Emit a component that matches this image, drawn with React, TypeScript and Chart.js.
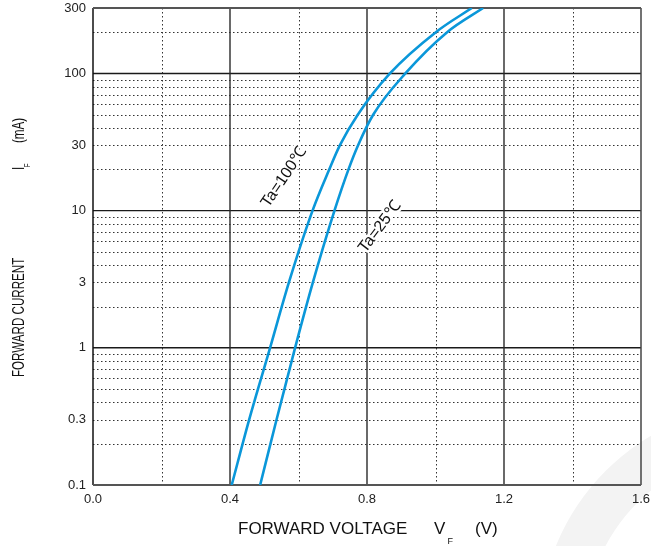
import { useEffect, useRef } from "react";
import { Chart, registerables } from "chart.js";

Chart.register(...registerables);

// ---- data ----
const currentPoints = [0.1, 0.3, 1, 3, 10, 20, 30, 50, 100, 200, 300];
const ta100Voltage = [0.405, 0.456, 0.517, 0.572, 0.641, 0.69, 0.721, 0.773, 0.867, 1.001, 1.106];
const ta25Voltage = [0.488, 0.536, 0.59, 0.642, 0.705, 0.746, 0.774, 0.818, 0.912, 1.034, 1.139];

const xTickValues = [0, 0.4, 0.8, 1.2, 1.6];
const yTickValues = [0.1, 0.3, 1, 3, 10, 30, 100, 300];
const xMajorGrid = [0.4, 0.8, 1.2];
const xMinorGrid = [0.2, 0.6, 1.0, 1.4];
const yMajorGrid = [1, 10, 100];
const yMinorGrid = [
  0.2, 0.3, 0.4, 0.5, 0.6, 0.7, 0.8, 0.9,
  2, 3, 4, 5, 6, 7, 8, 9,
  20, 30, 40, 50, 60, 70, 80, 90,
  200,
];
const curveLabelTexts = ["Ta=100℃", "Ta=25℃"];
const curveLabelVoltage = [0.558, 0.838];
const curveLabelCurrent = [17.5, 7.6];
const curveLabelAngle = [-56, -53];

const FONT = '"Liberation Sans", Arial, Helvetica, sans-serif';
const BLUE = "#0a97d9";

const watermarkPlugin = {
  id: "watermark",
  beforeDraw(chart: any) {
    const { ctx } = chart;
    ctx.save();
    ctx.fillStyle = "#f3f3f3";
    ctx.beginPath();
    ctx.arc(767, 632, 228, 0, Math.PI * 2);
    ctx.arc(767, 632, 183, 0, Math.PI * 2, true);
    ctx.fill("evenodd");
    ctx.restore();
  },
};

const gridPlugin = {
  id: "customGrid",
  beforeDatasetsDraw(chart: any) {
    const { ctx, chartArea, scales } = chart;
    const { left, right, top, bottom } = chartArea;
    const x = scales.x;
    const y = scales.y;
    ctx.save();
    ctx.strokeStyle = "#333";
    ctx.lineWidth = 1;
    ctx.setLineDash([1.5, 2.5]);
    yMinorGrid.forEach((v) => {
      const py = Math.round(y.getPixelForValue(v)) + 0.5;
      ctx.beginPath();
      ctx.moveTo(left, py);
      ctx.lineTo(right, py);
      ctx.stroke();
    });
    xMinorGrid.forEach((v) => {
      const px = Math.round(x.getPixelForValue(v)) + 0.5;
      ctx.beginPath();
      ctx.moveTo(px, top);
      ctx.lineTo(px, bottom);
      ctx.stroke();
    });
    ctx.setLineDash([]);
    ctx.strokeStyle = "#1a1a1a";
    ctx.lineWidth = 1.4;
    yMajorGrid.forEach((v) => {
      const py = y.getPixelForValue(v);
      ctx.beginPath();
      ctx.moveTo(left, py);
      ctx.lineTo(right, py);
      ctx.stroke();
    });
    ctx.strokeStyle = "#2a2a2a";
    xMajorGrid.forEach((v) => {
      const px = x.getPixelForValue(v);
      ctx.beginPath();
      ctx.moveTo(px, top);
      ctx.lineTo(px, bottom);
      ctx.stroke();
    });
    ctx.strokeStyle = "#111";
    ctx.lineWidth = 1.5;
    ctx.beginPath();
    ctx.moveTo(left, top);
    ctx.lineTo(left, bottom);
    ctx.stroke();
    ctx.strokeStyle = "#444";
    ctx.beginPath();
    ctx.moveTo(right, top);
    ctx.lineTo(right, bottom);
    ctx.stroke();
    ctx.strokeStyle = "#555";
    ctx.lineWidth = 2.2;
    ctx.beginPath();
    ctx.moveTo(left, top);
    ctx.lineTo(right, top);
    ctx.moveTo(left, bottom);
    ctx.lineTo(right, bottom);
    ctx.stroke();
    ctx.restore();
  },
};

const labelPlugin = {
  id: "curveLabels",
  afterDatasetsDraw(chart: any) {
    const { ctx, scales } = chart;
    ctx.save();
    ctx.font = `16px ${FONT}`;
    ctx.textAlign = "center";
    ctx.textBaseline = "middle";
    curveLabelTexts.forEach((t, i) => {
      const px = scales.x.getPixelForValue(curveLabelVoltage[i]);
      const py = scales.y.getPixelForValue(curveLabelCurrent[i]);
      ctx.save();
      ctx.translate(px, py);
      ctx.rotate((curveLabelAngle[i] * Math.PI) / 180);
      ctx.strokeStyle = "#fff";
      ctx.lineWidth = 5;
      ctx.lineJoin = "round";
      ctx.strokeText(t, 0, 0);
      ctx.fillStyle = "#111";
      ctx.fillText(t, 0, 0);
      ctx.restore();
    });
    ctx.restore();
  },
};

const titlePlugin = {
  id: "axisTitles",
  afterDraw(chart: any) {
    const { ctx } = chart;
    ctx.save();
    ctx.fillStyle = "#111";
    ctx.textAlign = "left";
    ctx.textBaseline = "alphabetic";
    // x axis title
    ctx.font = `17px ${FONT}`;
    ctx.fillText("FORWARD VOLTAGE", 238, 534);
    ctx.fillText("V", 434, 534);
    ctx.fillText("(V)", 475, 534);
    ctx.font = `9px ${FONT}`;
    ctx.fillText("F", 447.5, 544);
    // y axis title (rotated)
    const k = 0.683;
    ctx.save();
    ctx.translate(24, 377);
    ctx.rotate(-Math.PI / 2);
    ctx.scale(k, 1);
    ctx.font = `17px ${FONT}`;
    ctx.fillText("FORWARD CURRENT", 0, 0);
    ctx.fillText("I", 207 / k, 0);
    ctx.fillText("(mA)", 234 / k, 0);
    ctx.font = `9px ${FONT}`;
    ctx.fillText("F", 209.7 / k, 5.5);
    ctx.restore();
    ctx.restore();
  },
};

const zeroPadding = (scale: any) => {
  scale.paddingTop = 0;
  scale.paddingBottom = 0;
  scale.paddingLeft = 0;
  scale.paddingRight = 0;
};

export default function App() {
  const canvasRef = useRef<HTMLCanvasElement | null>(null);

  useEffect(() => {
    document.body.style.margin = "0";
    const canvas = canvasRef.current;
    if (!canvas) return;
    const chart = new Chart(canvas, {
      type: "line",
      data: {
        datasets: [
          {
            label: "Ta=100℃",
            data: ta100Voltage.map((v, i) => ({ x: v, y: currentPoints[i] })),
            borderColor: BLUE,
            borderWidth: 2.6,
            pointRadius: 0,
            cubicInterpolationMode: "monotone",
            fill: false,
          },
          {
            label: "Ta=25℃",
            data: ta25Voltage.map((v, i) => ({ x: v, y: currentPoints[i] })),
            borderColor: BLUE,
            borderWidth: 2.6,
            pointRadius: 0,
            cubicInterpolationMode: "monotone",
            fill: false,
          },
        ],
      },
      options: {
        animation: false,
        responsive: false,
        maintainAspectRatio: false,
        layout: { padding: { left: 0, top: 8, right: 10, bottom: 0 } },
        plugins: {
          legend: { display: false },
          tooltip: { enabled: false },
        },
        scales: {
          x: {
            type: "linear",
            min: 0,
            max: 1.6,
            grid: { display: false, drawTicks: false },
            border: { display: false },
            afterBuildTicks: (scale: any) => {
              scale.ticks = xTickValues.map((v) => ({ value: v }));
            },
            afterFit: (scale: any) => {
              scale.height = 61;
              zeroPadding(scale);
            },
            ticks: {
              autoSkip: false,
              maxRotation: 0,
              padding: 7,
              color: "#222",
              font: { family: FONT, size: 13 },
              callback: (v: any) => Number(v).toFixed(1),
            },
          },
          y: {
            type: "logarithmic",
            min: 0.1,
            max: 300,
            grid: { display: false, drawTicks: false },
            border: { display: false },
            afterBuildTicks: (scale: any) => {
              scale.ticks = yTickValues.map((v) => ({ value: v }));
            },
            afterFit: (scale: any) => {
              scale.width = 93;
              zeroPadding(scale);
            },
            ticks: {
              autoSkip: false,
              padding: 7,
              color: "#222",
              font: { family: FONT, size: 13 },
              callback: (v: any) => String(v),
            },
          },
        },
      },
      plugins: [watermarkPlugin, gridPlugin, labelPlugin, titlePlugin],
    } as any);
    return () => chart.destroy();
  }, []);

  return (
    <div style={{ width: 651, height: 546, position: "relative", background: "#fff" }}>
      <canvas ref={canvasRef} width={651} height={546} style={{ display: "block" }} />
    </div>
  );
}
